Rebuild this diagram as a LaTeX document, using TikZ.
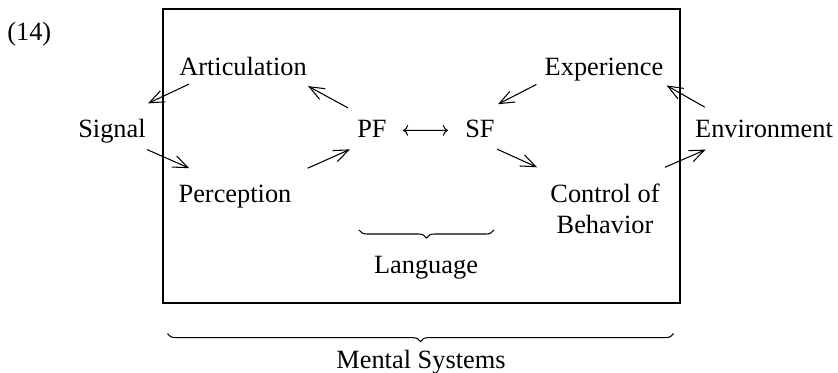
\documentclass[tikz,border=0pt]{standalone}
\usepackage{fontspec}
\setmainfont{Liberation Serif}
\usetikzlibrary{arrows.meta,calc,decorations.pathreplacing}
\tikzset{
  lbl/.style = {inner sep=0pt},
  arr/.style = {line width=0.6pt, -{Straight Barb[length=3mm,width=2.4mm]}},
  dbl/.style = {line width=0.6pt, {Computer Modern Rightarrow}-{Computer Modern Rightarrow}},
  brc/.style = {line width=0.6pt, decorate, decoration={brace, mirror, amplitude=0.16cm}},
}

\begin{document}
\begin{tikzpicture}[font=\fontsize{15}{17.6}\selectfont]
  \useasboundingbox (0,0) rectangle (16.76,-7.44);
  % the mind
  \node[draw, line width=0.7pt, minimum width=10.34cm, minimum height=5.88cm] (mind) at (8.43,-3.12) {};
  \node[lbl, anchor=base west] (num) at (0.14,-0.81) {(14)};
  \node[lbl, anchor=base] (artic)  at (4.86,-1.50) {Articulation};
  \node[lbl, anchor=base] (signal) at (2.24,-2.74) {Signal};
  \node[lbl, anchor=base] (percep) at (4.70,-4.04) {Perception};
  \node[lbl, anchor=base] (pf)     at (7.44,-2.74) {PF};
  \node[lbl, anchor=base] (sf)     at (9.60,-2.74) {SF};
  \node[lbl, anchor=base] (exper)  at (12.08,-1.50) {Experience};
  \node[lbl, anchor=base] (envir)  at (15.28,-2.74) {Environment};
  \node[lbl, align=center] (control) at (12.10,-4.17) {Control of\\Behavior};
  % sound side
  \draw[arr] ($(artic.south west)+(0.20,-0.17)$) -- ($(signal.north east)+(0.04,0.30)$);
  \draw[arr] ($(signal.south east)+(0.02,-0.13)$) -- ($(percep.north west)+(0.22,0.32)$);
  \draw[arr] ($(percep.north east)+(0.32,0.32)$) -- ($(pf.south west)+(-0.14,-0.24)$);
  \draw[arr] ($(pf.north west)+(-0.18,0.23)$) -- ($(artic.south east)+(0.02,-0.21)$);
  \draw[dbl, shorten <=0.32cm, shorten >=0.34cm] ([yshift=-0.04cm]pf.east) -- ([yshift=-0.04cm]sf.west);
  % meaning side
  \draw[arr] ($(exper.south west)+(-0.16,-0.07)$) -- ($(sf.north east)+(0.06,0.30)$);
  \draw[arr] ($(sf.south east)+(0.04,-0.23)$) -- ($(control.north west)+(-0.26,0.32)$);
  \draw[arr] ($(control.north east)+(0.10,0.32)$) -- ($(envir.south west)+(0.22,-0.24)$);
  \draw[arr] ($(envir.north west)+(0.20,0.24)$) -- ($(exper.south east)+(0.06,-0.09)$);
  % braces
  \draw[brc] ([shift={(0.04,-1.86)}]pf.base west) -- ([shift={(-0.02,-1.86)}]sf.base east);
  \node[lbl, anchor=base] (lang) at (8.52,-5.46) {Language};
  \draw[brc] ([shift={(0.10,-0.60)}]mind.south west) -- ([shift={(-0.14,-0.60)}]mind.south east);
  \node[lbl, anchor=base] (mental) at (8.42,-7.36) {Mental Systems};
\end{tikzpicture}
\end{document}
